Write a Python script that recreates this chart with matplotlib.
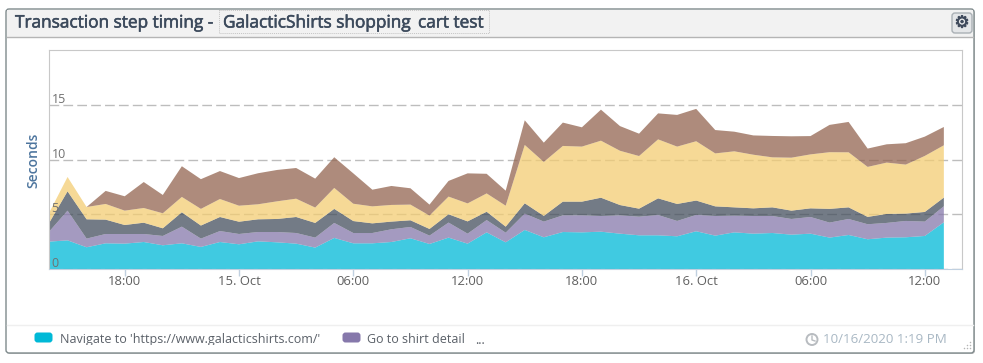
import numpy as np
import pandas as pd
import matplotlib
matplotlib.use('Agg')
import matplotlib.pyplot as plt
import matplotlib.dates as mdates
import matplotlib.patheffects as pe
from matplotlib.patches import Rectangle, FancyBboxPatch, Circle

plt.rcParams['font.family'] = ['Open Sans', 'DejaVu Sans']

times = pd.date_range('2020-10-14 14:00', periods=48, freq='h')

navigate = [2.52, 2.64, 2.01, 2.37, 2.34, 2.49, 2.19, 2.37, 2.04, 2.49, 2.28, 2.55,
            2.46, 2.34, 1.98, 2.86, 2.37, 2.37, 2.49, 2.83, 2.31, 2.89, 2.34, 3.37,
            2.46, 3.59, 2.92, 3.40, 3.37, 3.43, 3.25, 3.10, 3.10, 3.01, 3.47, 3.07,
            3.37, 3.25, 3.31, 3.16, 3.25, 2.89, 3.13, 2.74, 2.89, 2.92, 3.04, 4.29]
shirt_detail = [0.85, 2.71, 0.79, 0.85, 0.88, 0.73, 0.85, 1.52, 0.76, 1.00, 0.94, 0.85,
                0.94, 0.97, 0.91, 1.37, 0.94, 0.94, 1.16, 1.03, 0.76, 1.37, 0.91, 1.12,
                0.88, 1.49, 1.43, 1.52, 1.55, 1.43, 1.67, 1.70, 1.85, 1.40, 1.49, 1.79,
                1.52, 1.61, 1.55, 1.43, 1.52, 1.37, 1.46, 1.37, 1.34, 1.49, 1.31, 1.46]
step3 = [0.76, 1.76, 1.76, 1.31, 0.82, 1.03, 0.70, 1.31, 1.19, 1.28, 1.12, 1.16,
         1.19, 1.46, 1.34, 1.28, 1.09, 0.88, 0.70, 0.61, 0.61, 0.76, 1.12, 0.76,
         0.55, 0.94, 0.52, 1.25, 1.25, 1.67, 0.94, 0.73, 1.52, 1.55, 1.31, 0.88,
         0.76, 0.70, 0.79, 0.76, 0.79, 1.25, 1.06, 0.67, 0.82, 0.67, 0.88, 0.79]
step4 = [0.91, 1.31, 1.12, 1.43, 1.31, 1.34, 1.37, 1.40, 1.52, 1.64, 1.46, 1.37,
         1.61, 1.67, 1.40, 1.91, 1.58, 1.55, 1.52, 1.43, 1.22, 1.61, 1.64, 1.67,
         1.91, 5.32, 4.92, 5.08, 5.02, 5.20, 4.95, 4.80, 5.38, 5.23, 5.41, 4.83,
         5.11, 4.89, 4.56, 4.83, 4.92, 5.17, 5.02, 4.56, 4.68, 4.47, 5.11, 4.77]
step5 = [0.00, 0.00, 0.00, 1.19, 1.31, 2.37, 1.67, 2.80, 2.71, 2.55, 2.52, 2.83,
         2.86, 2.80, 2.64, 2.80, 2.77, 1.52, 1.73, 1.49, 1.00, 1.43, 2.74, 1.79,
         1.37, 2.25, 1.76, 2.13, 1.76, 2.83, 2.25, 2.04, 2.37, 2.89, 2.95, 2.13,
         1.79, 1.76, 1.95, 1.95, 1.67, 2.49, 2.77, 1.67, 1.67, 1.95, 1.76, 1.67]
colors = ['#00b9d7', '#8678ab', '#444f5d', '#f3cd73', '#936550']

tick_times = pd.date_range('2020-10-14 18:00', periods=8, freq='6h')
tick_labels = ['18:00', '15. Oct', '06:00', '12:00', '18:00', '16. Oct', '06:00', '12:00']
y_ticks = [0, 5, 10, 15]

W, H = 983, 363
fig = plt.figure(figsize=(W / 100, H / 100), dpi=100)

# card around the chart, drawn in pixel coordinates
bg = fig.add_axes([0, 0, 1, 1])
bg.set_xlim(0, W)
bg.set_ylim(H, 0)
bg.axis('off')
bg.add_patch(FancyBboxPatch((7, 10), 968, 344, boxstyle='round,pad=0,rounding_size=3',
                            fc='#8f8f8f', ec='none', alpha=0.5))
bg.add_patch(FancyBboxPatch((6, 9), 968, 344, boxstyle='round,pad=0,rounding_size=3',
                            fc='white', ec='#7f8a8c', lw=1))
bg.add_patch(Rectangle((7, 10), 966, 27, fc='#f2f2f2', ec='none'))
bg.plot([7, 973], [37, 37], color='#b5b5b5', lw=1)
bg.plot([7, 973], [324.5, 324.5], color='#efefef', lw=1)

title_style = dict(fontsize=12.4, color='#3c4a5c', va='center')
title_edge = [pe.withStroke(linewidth=0.4, foreground='#3c4a5c')]
bg.text(15, 23.5, 'Transaction step timing -', path_effects=title_edge, **title_style)
bg.add_patch(Rectangle((218.5, 10), 270, 23, fc='none', ec='#c4c4c4', lw=0.7, ls=(0, (1, 1))))
bg.text(223, 23.5, 'GalacticShirts shopping', path_effects=title_edge, **title_style)
bg.text(418, 23.5, 'cart test', path_effects=title_edge, **title_style)

# settings button
bg.add_patch(FancyBboxPatch((952, 13), 20, 20, boxstyle='round,pad=0,rounding_size=3',
                            fc='#e4e6e8', ec='#aab0b5', lw=1))
gear = bg.text(962, 22.5, '\u2699', fontsize=12, color='#3f4a5c', ha='center', va='center',
               family='DejaVu Sans')
gear.set_path_effects([pe.withStroke(linewidth=0.6, foreground='#3f4a5c')])

# legend row
bg.add_patch(FancyBboxPatch((34.5, 332.5), 18, 10, boxstyle='round,pad=0,rounding_size=3',
                            fc='#00b9d7', ec='none'))
bg.text(59.5, 339.5, "Navigate to 'https://www.galacticshirts.com/'", fontsize=9, color='#5a6068', va='center')
bg.add_patch(FancyBboxPatch((342.5, 332.5), 18, 10, boxstyle='round,pad=0,rounding_size=3',
                            fc='#8678ab', ec='none'))
bg.text(367, 339.5, 'Go to shirt detail', fontsize=9, color='#5a6068', va='center')
bg.text(475, 340, '...', fontsize=9, color='#5a6068', va='center')
bg.add_patch(Rectangle((50, 344.5), 300, 4, fc='white', ec='none', zorder=5))

# timestamp
bg.add_patch(Circle((812, 339.5), 5.5, fc='none', ec='#b8bcc0', lw=1.4))
bg.plot([812, 812, 815], [336, 340, 341], color='#b8bcc0', lw=1)
bg.text(823, 339.5, '10/16/2020 1:19 PM', fontsize=9.6, color='#a9b8c4', va='center')
bg.scatter([970, 970, 970, 967, 967, 964], [342, 345, 348, 345, 348, 348], s=1.2, color='#b5b5b5', lw=0)

ax = fig.add_axes([48.5 / W, 1 - 269.3 / H, (962 - 48.5) / W, (269.3 - 50) / H])
ax.set_facecolor('none')
ax.stackplot(times, navigate, shirt_detail, step3, step4, step5, colors=colors, alpha=0.75,
             edgecolor='none', lw=0, zorder=2)
ax.set_ylim(0, 20)
ax.set_xlim(mdates.date2num(times[0]), mdates.date2num(times[0]) + (962 - 48.5) / 19.05 / 24)

ax.set_yticks(y_ticks)
ax.set_yticklabels([])
ax.tick_params(axis='y', length=0)
ax.yaxis.grid(True, color='#bdbdbd', lw=1, ls=(0, (7, 3)), zorder=1)
ax.set_axisbelow(True)
for y in y_ticks:
    ax.annotate(str(y), (0, y), xytext=(3, -1), textcoords='offset pixels', fontsize=9,
                color='#707070', va='bottom', ha='left', annotation_clip=False, zorder=3,
                xycoords=ax.get_yaxis_transform())

ax.set_xticks(mdates.date2num(tick_times))
ax.set_xticklabels(tick_labels, fontsize=9.4, color='#606060')
ax.tick_params(axis='x', length=5, width=1, color='#c0d0e0', pad=-1)

for side in ['top', 'right', 'left']:
    ax.spines[side].set_color('#c8c8c8')
ax.spines['bottom'].set_color('#c0d0e0')

ax.text(33, 160, 'Seconds', transform=bg.transData, rotation=90, fontsize=10, weight=600,
        color='#4d759e', ha='center', va='center')

fig.savefig('out.png', dpi=100)
